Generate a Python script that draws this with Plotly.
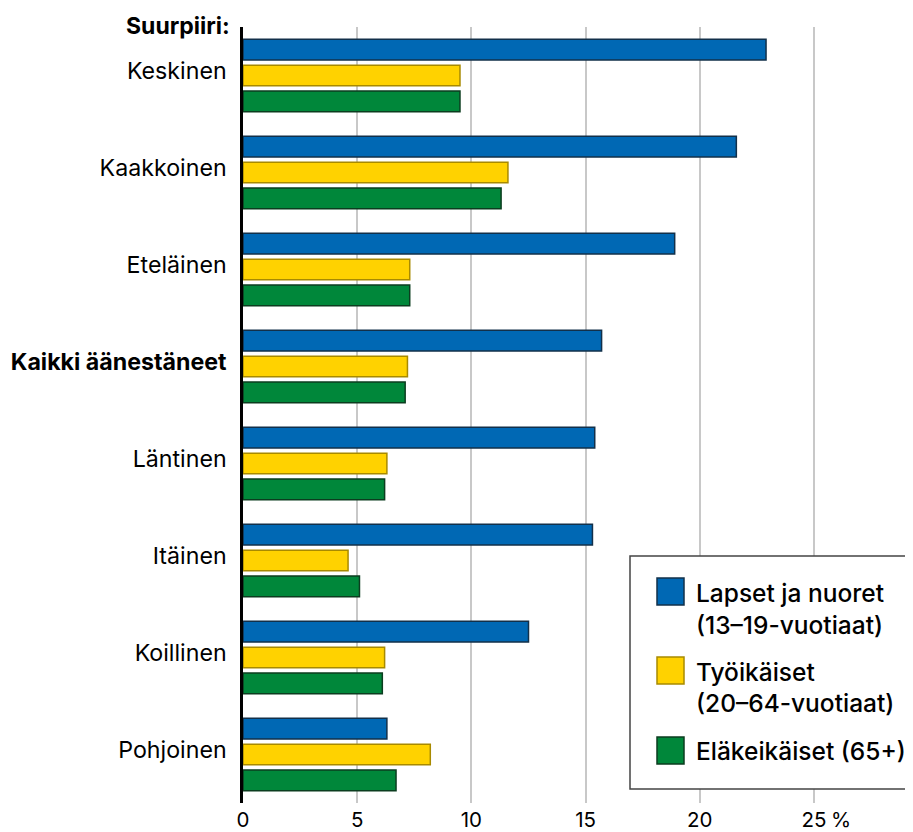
import plotly.graph_objects as go

# ---- data ----
categories = ["Keskinen", "Kaakkoinen", "Eteläinen", "Kaikki äänestäneet",
              "Läntinen", "Itäinen", "Koillinen", "Pohjoinen"]
category_labels = ["Keskinen", "Kaakkoinen", "Eteläinen", "<b>Kaikki äänestäneet</b>",
                   "Läntinen", "Itäinen", "Koillinen", "Pohjoinen"]
series_names = ["Lapset ja nuoret (13–19-vuotiaat)",
                "Työikäiset (20–64-vuotiaat)",
                "Eläkeikäiset (65+)"]
legend_lines = [["Lapset ja nuoret", "(13–19-vuotiaat)"],
                ["Työikäiset", "(20–64-vuotiaat)"],
                ["Eläkeikäiset (65+)"]]
lapset = [22.9, 21.6, 18.9, 15.7, 15.4, 15.3, 12.5, 6.3]
tyoikaiset = [9.5, 11.6, 7.3, 7.2, 6.3, 4.6, 6.2, 8.2]
elakeikaiset = [9.5, 11.3, 7.3, 7.1, 6.2, 5.1, 6.1, 6.7]
x_tickvals = [0, 5, 10, 15, 20, 25]
x_ticktext = ["0", "5", "10", "15", "20", "25"]
group_title = "Suurpiiri:"
unit_label = "%"

values = [lapset, tyoikaiset, elakeikaiset]
fills = ["#0068b4", "#ffd200", "#00873a"]
outlines = ["#12304a", "#a88a00", "#0b3d1f"]

FONT = "Inter"
OFFX, OFFY = 8, 8  # page body margin compensation
W, H = 913 - 8, 832 - 8
ML, MR, MT, MB = 243 - OFFX, 0, 27 - OFFY, 832 - 803
PW = W - ML - MR
PH = H - MT - MB

def px_x(px):
    return (px - OFFX - ML) / PW

def px_y(py):
    return (H - MB - (py - OFFY)) / PH

fig = go.Figure()
for name, vals, fc, lc in zip(series_names, values, fills, outlines):
    fig.add_trace(go.Bar(
        y=categories, x=vals, name=name, orientation="h",
        marker=dict(color=fc, line=dict(color=lc, width=1.5)),
        showlegend=False,
    ))

shapes = []
annotations = []
# custom legend box
shapes.append(dict(type="rect", xref="paper", yref="paper",
                   x0=px_x(630), x1=px_x(930), y0=px_y(789), y1=px_y(556),
                   fillcolor="white", line=dict(color="#444444", width=1.5),
                   layer="above"))
sw_tops = [578, 657, 737]
text_rows = [[593, 625], [672, 703], [751]]
for fc, lc, top, lines, rows in zip(fills, outlines, sw_tops, legend_lines, text_rows):
    shapes.append(dict(type="rect", xref="paper", yref="paper",
                       x0=px_x(657), x1=px_x(684), y0=px_y(top + 27), y1=px_y(top),
                       fillcolor=fc, line=dict(color=lc, width=1.5), layer="above"))
    for line, ry in zip(lines, rows):
        annotations.append(dict(xref="paper", yref="paper", x=px_x(694), y=px_y(ry),
                                text=line, showarrow=False, xanchor="left",
                                yanchor="middle",
                                font=dict(family=FONT, size=24.5, color="#000", weight=500)))

annotations.append(dict(xref="paper", yref="paper", x=px_x(232), y=px_y(26),
                        text="<b>" + group_title + "</b>", showarrow=False,
                        xanchor="right", yanchor="middle",
                        font=dict(family=FONT, size=23, color="#000")))
annotations.append(dict(xref="x", yref="paper", x=25, y=px_y(820),
                        text=unit_label, showarrow=False, xanchor="left",
                        yanchor="middle", xshift=15,
                        font=dict(family=FONT, size=20.5, color="#000")))

fig.update_layout(
    width=W, height=H,
    margin=dict(l=ML, r=MR, t=MT, b=MB, pad=0, autoexpand=False),
    paper_bgcolor="white", plot_bgcolor="white",
    barmode="group", bargap=0.2, bargroupgap=0.2,
    font=dict(family=FONT, size=22, color="#000"),
    shapes=shapes, annotations=annotations,
    showlegend=False,
)
fig.update_xaxes(range=[0, PW / 22.84], tickvals=x_tickvals, ticktext=x_ticktext,
                 showgrid=True, gridcolor="#c8c8c8", gridwidth=1.5, automargin=False,
                 zeroline=False, showline=False, ticks="", ticklabelstandoff=2,
                 tickfont=dict(family=FONT, size=20.5, color="#000"))
fig.update_yaxes(categoryorder="array", categoryarray=categories, automargin=False,
                 range=[7.5, -0.5], tickvals=categories, ticktext=category_labels,
                 showgrid=False, zeroline=False, showline=True, linecolor="#000",
                 linewidth=2.5, ticks="", ticklabelstandoff=9, ticklabelshift=5,
                 tickfont=dict(family=FONT, size=23.2, color="#000"))

fig.write_html("out.html")
